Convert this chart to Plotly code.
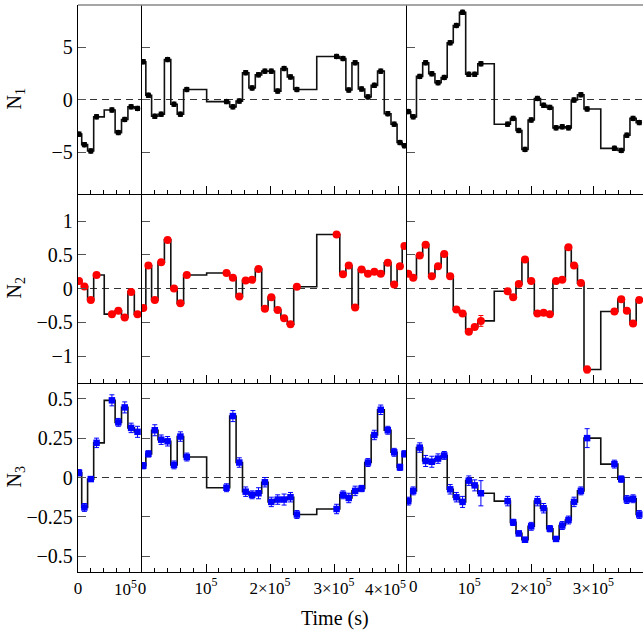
import plotly.graph_objects as go
from plotly.subplots import make_subplots

# ---------------- data ----------------
# time stamps (s) for the three observation segments
t_c1 = [1.6e3, 1.0e4, 2.0e4, 2.9e4, 5.3e4, 6.3e4, 7.3e4, 8.3e4, 9.3e4]
t_c2 = [2e3, 1.0e4, 2.0e4, 3.0e4, 4.0e4, 5.0e4, 6.0e4, 7.0e4,
        1.32e5, 1.42e5, 1.52e5, 1.62e5, 1.72e5, 1.82e5, 1.92e5, 2.02e5, 2.12e5, 2.22e5, 2.32e5, 2.42e5,
        3.04e5, 3.14e5, 3.23e5, 3.33e5, 3.43e5, 3.53e5, 3.63e5, 3.73e5, 3.84e5, 3.94e5, 4.03e5, 4.10e5]
t_c3 = [2e3, 1.0e4, 2.05e4, 3.0e4, 4.0e4, 5.0e4, 6.0e4, 6.95e4, 7.95e4, 8.95e4, 9.95e4, 1.09e5, 1.19e5,
        1.62e5, 1.71e5, 1.80e5, 1.90e5, 2.0e5, 2.10e5, 2.20e5, 2.30e5, 2.40e5, 2.50e5, 2.60e5, 2.69e5, 2.80e5, 2.90e5,
        3.34e5, 3.45e5, 3.54e5, 3.64e5, 3.74e5]

# N1
n1_c1 = [-3.3, -4.3, -4.9, -1.65, -1.0, -3.15, -1.9, -0.7, -0.85]
n1_c2 = [3.6, 0.4, -1.6, -1.4, 3.8, -0.45, -1.4, 0.95,
         -0.2, -0.7, -0.15, 2.55, 1.1, 2.35, 2.7, 2.7, 0.8, 2.95, 2.15, 0.95,
         4.1, 3.9, 0.9, 3.5, 1.0, 0.25, 1.35, 2.7, -1.35, -2.35, -4.1, -4.4]
n1_c3 = [-1.15, -1.65, 2.2, 3.5, 2.45, 1.6, 2.1, 5.4, 7.05, 8.3, 2.4, 2.4, 3.4,
         -2.35, -1.8, -2.95, -4.75, -1.95, 0.1, -0.55, -0.75, -2.7, -2.6, -2.7, -0.05, 0.45, -0.9,
         -4.65, -4.85, -3.4, -1.8, -2.2]
e1_c1 = [0.2, 0.2, 0.2, 0.2, 0.2, 0.2, 0.2, 0.2, 0.2]
e1_c2 = [0.2, 0.2, 0.2, 0.2, 0.2, 0.2, 0.2, 0.2,
         0.2, 0.2, 0.2, 0.2, 0.2, 0.2, 0.2, 0.2, 0.2, 0.2, 0.2, 0.2,
         0.2, 0.2, 0.2, 0.2, 0.2, 0.2, 0.2, 0.2, 0.2, 0.2, 0.2, 0.2]
e1_c3 = [0.2, 0.2, 0.2, 0.2, 0.2, 0.2, 0.2, 0.2, 0.2, 0.2, 0.2, 0.2, 0.2,
         0.2, 0.2, 0.2, 0.2, 0.2, 0.2, 0.2, 0.2, 0.2, 0.2, 0.2, 0.2, 0.2, 0.2,
         0.2, 0.2, 0.2, 0.2, 0.2]

# N2
n2_c1 = [0.11, 0.03, -0.17, 0.2, -0.38, -0.33, -0.43, -0.05, -0.38]
n2_c2 = [-0.29, 0.34, -0.17, 0.39, 0.72, 0.0, -0.22, 0.2,
         0.23, 0.16, -0.12, 0.12, 0.13, 0.29, -0.3, -0.13, -0.32, -0.44, -0.53, 0.025,
         0.8, 0.21, 0.34, -0.28, 0.28, 0.22, 0.25, 0.22, 0.38, 0.06, 0.33, 0.63]
n2_c3 = [0.22, 0.16, 0.49, 0.65, 0.18, 0.33, 0.51, 0.18, -0.31, -0.37, -0.64, -0.57, -0.48,
         -0.04, -0.13, 0.065, 0.43, 0.11, -0.37, -0.36, -0.38, 0.11, 0.13, 0.61, 0.34, 0.08, -1.2,
         -0.34, -0.16, -0.33, -0.52, -0.17]
e2_c1 = [0.03, 0.03, 0.03, 0.03, 0.03, 0.03, 0.03, 0.03, 0.03]
e2_c2 = [0.03, 0.03, 0.03, 0.03, 0.03, 0.03, 0.03, 0.03,
         0.03, 0.03, 0.03, 0.03, 0.03, 0.03, 0.03, 0.03, 0.03, 0.03, 0.03, 0.03,
         0.03, 0.03, 0.03, 0.03, 0.03, 0.03, 0.03, 0.03, 0.03, 0.03, 0.03, 0.03]
e2_c3 = [0.03, 0.03, 0.03, 0.03, 0.03, 0.03, 0.03, 0.03, 0.03, 0.03, 0.03, 0.03, 0.08,
         0.03, 0.03, 0.03, 0.03, 0.03, 0.03, 0.03, 0.03, 0.03, 0.03, 0.03, 0.03, 0.03, 0.05,
         0.03, 0.03, 0.03, 0.03, 0.03]

# N3
n3_c1 = [0.03, -0.19, -0.01, 0.22, 0.49, 0.35, 0.445, 0.315, 0.29]
n3_c2 = [0.075, 0.15, 0.30, 0.24, 0.23, 0.08, 0.26, 0.13,
         -0.065, 0.39, 0.095, -0.09, -0.11, -0.10, -0.03, -0.155, -0.14, -0.14, -0.125, -0.235,
         -0.20, -0.11, -0.13, -0.085, -0.07, 0.095, 0.27, 0.43, 0.30, 0.16, 0.065, 0.15]
n3_c3 = [-0.15, -0.085, 0.19, 0.105, 0.10, 0.12, 0.14, -0.075, -0.125, -0.155, -0.02, -0.05, -0.10,
         -0.15, -0.285, -0.355, -0.395, -0.31, -0.15, -0.195, -0.325, -0.39, -0.305, -0.27, -0.155, -0.085, 0.25,
         0.085, -0.01, -0.14, -0.135, -0.235]
e3_c1 = [0.02, 0.025, 0.015, 0.03, 0.035, 0.025, 0.035, 0.03, 0.035]
e3_c2 = [0.02, 0.02, 0.035, 0.03, 0.03, 0.025, 0.03, 0.025,
         0.025, 0.035, 0.03, 0.03, 0.025, 0.035, 0.03, 0.03, 0.03, 0.035, 0.03, 0.025,
         0.03, 0.025, 0.03, 0.03, 0.02, 0.025, 0.03, 0.03, 0.025, 0.025, 0.02, 0.02]
e3_c3 = [0.025, 0.025, 0.03, 0.035, 0.035, 0.03, 0.025, 0.03, 0.03, 0.035, 0.03, 0.035, 0.08,
         0.03, 0.02, 0.015, 0.015, 0.025, 0.03, 0.03, 0.02, 0.015, 0.025, 0.025, 0.03, 0.025, 0.06,
         0.025, 0.02, 0.025, 0.025, 0.025]

row_titles = ["N<sub>1</sub>", "N<sub>2</sub>", "N<sub>3</sub>"]
x_ranges = [[0, 1.0e5], [0, 4.14e5], [0, 3.8e5]]
y_ranges = [[-9, 9], [-1.4, 1.4], [-0.6, 0.6]]
y_dticks = [5, 0.5, 0.25]
x_tickvals = [[0], [0, 1e5, 2e5, 3e5], [1e5, 2e5, 3e5]]
x_ticktext = [["0"],
              ["0", "10<sup>5</sup>", "2×10<sup>5</sup>", "3×10<sup>5</sup>"],
              ["10<sup>5</sup>", "2×10<sup>5</sup>", "3×10<sup>5</sup>"]]
x_major = [[0, 1e5], [0, 1e5, 2e5, 3e5, 4e5], [0, 1e5, 2e5, 3e5]]

times = [t_c1, t_c2, t_c3]
values = [[n1_c1, n1_c2, n1_c3], [n2_c1, n2_c2, n2_c3], [n3_c1, n3_c2, n3_c3]]
errors = [[e1_c1, e1_c2, e1_c3], [e2_c1, e2_c2, e2_c3], [e3_c1, e3_c2, e3_c3]]

# ---------------- style ----------------
FONT = "Liberation Serif"
colors = ["#000000", "#ff0000", "#0000ff"]
symbols = ["circle", "circle", "square"]
msizes = [5.5, 8, 6.5]

fig = make_subplots(rows=3, cols=3, column_widths=[64, 265, 236],
                    horizontal_spacing=0, vertical_spacing=0)

for r in range(3):
    for c in range(3):
        fig.add_trace(go.Scatter(
            x=times[c], y=values[r][c], mode="lines",
            line=dict(shape="hvh", color="#111111", width=1.6),
            showlegend=False, hoverinfo="skip"), row=r + 1, col=c + 1)
        fig.add_trace(go.Scatter(
            x=times[c], y=values[r][c], mode="markers",
            marker=dict(color=colors[r], symbol=symbols[r], size=msizes[r], line=dict(width=0)),
            error_y=dict(type="data", array=errors[r][c], color=colors[r], thickness=1, width=2.5),
            showlegend=False), row=r + 1, col=c + 1)

        k = r * 3 + c + 1
        suffix = "" if k == 1 else str(k)
        fig.add_shape(type="line", xref=f"x{suffix} domain", yref=f"y{suffix}",
                      x0=0, x1=1, y0=0, y1=0, layer="below",
                      line=dict(color="#333333", width=1.2, dash="7px,5px"))

        fig.update_xaxes(row=r + 1, col=c + 1, range=x_ranges[c], automargin=False,
                         showline=True, linecolor="black", linewidth=1.3,
                         ticks="inside", ticklen=8, tickwidth=1, tickcolor="black",
                         tickmode="array", tickvals=x_major[c],
                         ticktext=[x_ticktext[c][x_tickvals[c].index(v)] if v in x_tickvals[c] else " "
                                   for v in x_major[c]],
                         showticklabels=(r == 2), showgrid=False, zeroline=False,
                         tickfont=dict(family=FONT, size=17, color="black"),
                         minor=dict(ticks="inside", ticklen=4, tickcolor="black",
                                    tickmode="linear", tick0=0, dtick=2e4, showgrid=False))
        fig.update_yaxes(row=r + 1, col=c + 1, range=y_ranges[r], automargin=False,
                         showline=True, linecolor="black", linewidth=1.3,
                         ticks="inside", ticklen=8, tickwidth=1, tickcolor="#555555",
                         dtick=y_dticks[r], tick0=0,
                         showticklabels=(c == 0), showgrid=False, zeroline=False,
                         tickfont=dict(family=FONT, size=20, color="black"))

# top frame line
fig.add_shape(type="line", xref="paper", yref="paper", x0=0, x1=1, y0=1, y1=1,
              line=dict(color="#888888", width=1.3))

annotations = []
# row titles
for i, txt in enumerate(row_titles):
    annotations.append(dict(text=txt, xref="paper", yref="paper", x=0, y=[5 / 6, 0.5, 1 / 6][i],
                            xshift=-63, xanchor="center", yanchor="middle", textangle=-90,
                            showarrow=False, font=dict(family=FONT, size=20, color="black")))
# x title
annotations.append(dict(text="Time (s)", xref="paper", yref="paper", x=0.455, y=0, yshift=-46,
                        xanchor="center", yanchor="middle", showarrow=False,
                        font=dict(family=FONT, size=20, color="black")))
# edge tick labels (shifted to avoid overlap at the panel joins)
edge_font = dict(family=FONT, size=17, color="black")
annotations.append(dict(text="10<sup>5</sup>", xref="x7", yref="paper", x=1e5, y=0, yshift=-3,
                        xanchor="right", yanchor="top", xshift=-3, showarrow=False, font=edge_font))
annotations.append(dict(text="4×10<sup>5</sup>", xref="x8", yref="paper", x=4e5, y=0, yshift=-3,
                        xanchor="right", yanchor="top", xshift=10, showarrow=False, font=edge_font))
annotations.append(dict(text="0", xref="x9", yref="paper", x=0, y=0, yshift=-3,
                        xanchor="left", yanchor="top", xshift=0, showarrow=False, font=edge_font))

fig.update_layout(
    width=643, height=635,
    margin=dict(l=78, r=0, t=5, b=63, autoexpand=False),
    paper_bgcolor="white", plot_bgcolor="white",
    font=dict(family=FONT, color="black"),
    annotations=annotations,
)

fig.write_html("out.html", config={"displayModeBar": False},
               post_script="document.body.style.margin='0';")
